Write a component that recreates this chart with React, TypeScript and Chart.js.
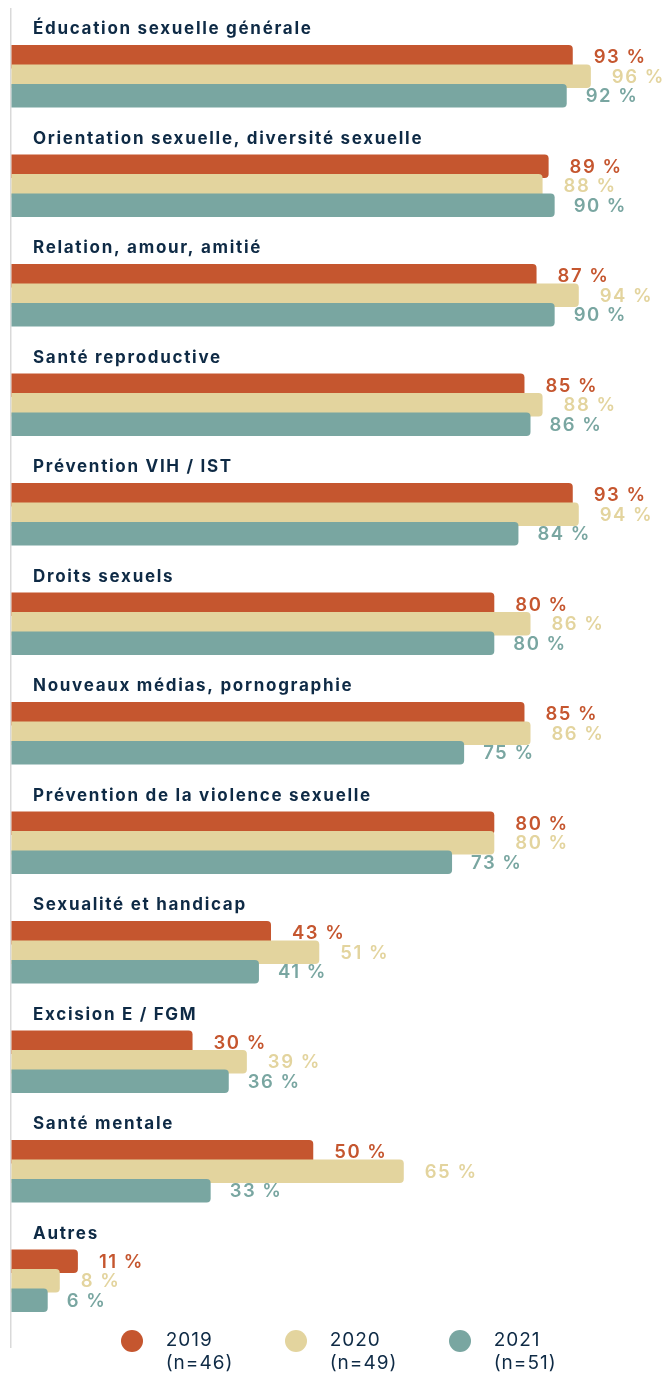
import { useEffect, useRef } from "react";
import { Chart, registerables } from "chart.js";

Chart.register(...registerables);

const categories = [
  "Éducation sexuelle générale",
  "Orientation sexuelle, diversité sexuelle",
  "Relation, amour, amitié",
  "Santé reproductive",
  "Prévention VIH / IST",
  "Droits sexuels",
  "Nouveaux médias, pornographie",
  "Prévention de la violence sexuelle",
  "Sexualité et handicap",
  "Excision E / FGM",
  "Santé mentale",
  "Autres",
];

const values2019 = [93, 89, 87, 85, 93, 80, 85, 80, 43, 30, 50, 11];
const values2020 = [96, 88, 94, 88, 94, 86, 86, 80, 51, 39, 65, 8];
const values2021 = [92, 90, 90, 86, 84, 80, 75, 73, 41, 36, 33, 6];

const years = ["2019", "2020", "2021"];
const sampleSizes = ["(n=46)", "(n=49)", "(n=51)"];

const COLORS = ["#c5562f", "#e3d49e", "#79a6a1"];
const LABEL_GAPS = [21, 21, 19];
const NAVY = "#0e2a45";

export default function App() {
  const canvasRef = useRef<HTMLCanvasElement>(null);

  useEffect(() => {
    const canvas = canvasRef.current;
    if (!canvas) return;

    const layeredPlugin = {
      id: "layeredBars",
      beforeDraw(chart: any) {
        (chart.ctx as any).letterSpacing = "1.7px";
      },
      beforeDatasetsDraw(chart: any) {
        const ctx = chart.ctx;
        const area = chart.chartArea;
        ctx.save();
        ctx.strokeStyle = "#d9d9d9";
        ctx.lineWidth = 1.5;
        ctx.beginPath();
        ctx.moveTo(area.left - 0.75, area.top - 13.45);
        ctx.lineTo(area.left - 0.75, area.bottom + 12.5);
        ctx.stroke();
        ctx.restore();

        // draw datasets in forward order so later series lie on top
        chart.data.datasets.forEach((_ds: any, i: number) => {
          const meta = chart.getDatasetMeta(i);
          if (!meta.hidden) meta.controller.draw();
        });

        ctx.save();
        (ctx as any).letterSpacing = "1.5px";
        ctx.font = "600 18.5px Inter";
        ctx.textBaseline = "middle";
        ctx.textAlign = "left";
        chart.data.datasets.forEach((ds: any, i: number) => {
          const meta = chart.getDatasetMeta(i);
          ctx.fillStyle = ds.backgroundColor;
          meta.data.forEach((el: any, j: number) => {
            ctx.fillText(`${ds.data[j]} %`, el.x + LABEL_GAPS[i], el.y + 1);
          });
        });
        ctx.restore();
        return false;
      },
    };

    const seriesValues = [values2019, values2020, values2021];

    const chart = new Chart(canvas, {
      type: "bar",
      data: {
        labels: categories,
        datasets: seriesValues.map((vals, i) => ({
          label: years[i],
          data: vals,
          backgroundColor: COLORS[i],
          borderWidth: 0,
          borderRadius: 4,
          borderSkipped: "start",
          categoryPercentage: 0.534,
          barPercentage: 1.205,
        })),
      },
      options: {
        indexAxis: "y",
        responsive: true,
        maintainAspectRatio: false,
        animation: false,
        layout: {
          padding: { left: 11.5, right: 50, top: 21.45, bottom: 37.55 },
        },
        plugins: {
          legend: { display: false },
          tooltip: { enabled: false },
        },
        scales: {
          x: {
            type: "linear",
            min: 0,
            max: 100,
            display: false,
          },
          y: {
            type: "category",
            grid: { display: false },
            border: { display: false },
            ticks: {
              mirror: true,
              padding: 21.5,
              labelOffset: -47,
              color: NAVY,
              autoSkip: false,
              font: { family: "Inter", weight: "bold", size: 17 },
            },
            afterFit: (scale: any) => {
              scale.width = 0;
              scale.paddingTop = 0;
              scale.paddingBottom = 0;
            },
          },
        },
      },
      plugins: [layeredPlugin],
    } as any);

    return () => chart.destroy();
  }, []);

  return (
    <div
      style={{
        position: "absolute",
        left: 0,
        top: 0,
        width: 665,
        height: 1373,
        overflow: "hidden",
        background: "#ffffff",
      }}
    >
      <div style={{ position: "absolute", left: 0, top: 0, width: 665, height: 1373 }}>
        <canvas ref={canvasRef} />
      </div>
      {years.map((y, i) => (
        <div
          key={y}
          style={{
            position: "absolute",
            left: 120.7 + 164 * i,
            top: 1328.3,
            display: "flex",
            alignItems: "flex-start",
            fontFamily: "Inter, sans-serif",
            fontSize: 19,
            lineHeight: "23px",
            letterSpacing: "1px",
            color: NAVY,
          }}
        >
          <div
            style={{
              width: 22,
              height: 22,
              borderRadius: "50%",
              background: COLORS[i],
              marginTop: 1.7,
              marginRight: 23,
              flexShrink: 0,
            }}
          />
          <div>
            <div>{y}</div>
            <div>{sampleSizes[i]}</div>
          </div>
        </div>
      ))}
    </div>
  );
}
